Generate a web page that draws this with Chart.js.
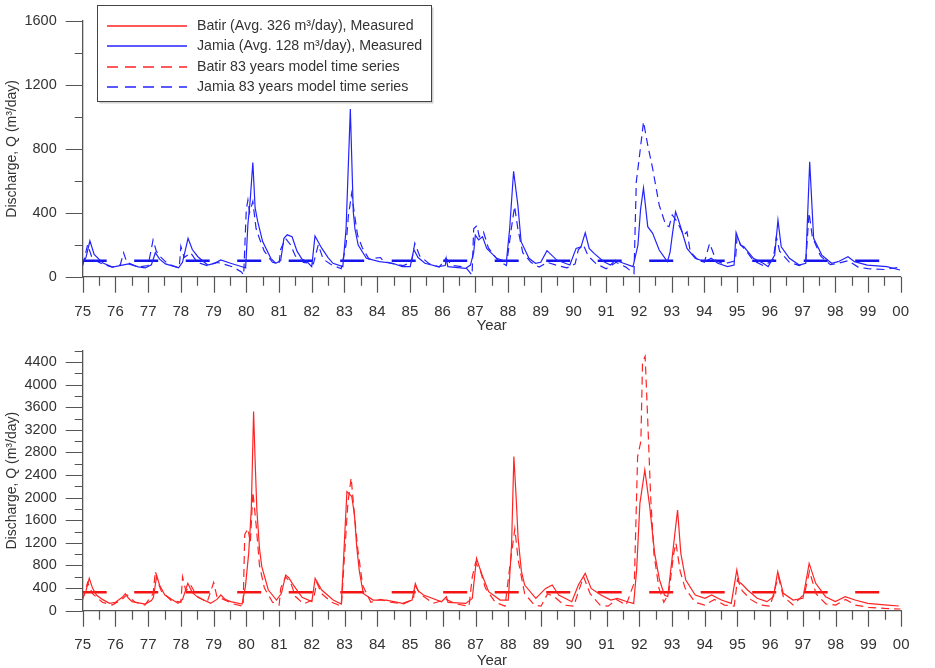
<!DOCTYPE html>
<html>
<head>
<meta charset="utf-8">
<script src="https://cdn.jsdelivr.net/npm/chart.js@4.4.0/dist/chart.umd.min.js"></script>
<style>
  html, body { margin: 0; padding: 0; background: #fff; }
  #wrap { position: relative; width: 935px; height: 668px; overflow: hidden; }
  canvas { position: absolute; left: 0; }
  #jamiaChart { top: 0; }
  #batirChart { top: 333px; }
</style>
</head>
<body>
<div id="wrap">
  <canvas id="jamiaChart" width="935" height="335"></canvas>
  <canvas id="batirChart" width="935" height="335"></canvas>
</div>
<script>
const FONT = '"Liberation Sans", Arial, sans-serif';
const BLUE = 'rgb(35,35,255)';
const RED = 'rgb(255,35,35)';
const AXIS = '#555';

// years are given as 75..100 (100 = 2000)
const yearMin = 75;
const yearMax = 100;
const yearTicks = ['75','76','77','78','79','80','81','82','83','84','85','86','87','88','89','90','91','92','93','94','95','96','97','98','99','00'];

// Jamia, measured
const jamiaMeasYear = [75.00,75.10,75.22,75.35,75.62,75.91,76.21,76.40,76.70,76.91,77.10,77.22,77.35,77.53,77.93,78.05,78.22,78.35,78.52,78.82,79.05,79.22,79.52,79.87,79.98,80.05,80.12,80.20,80.27,80.35,80.50,80.75,80.90,81.05,81.15,81.25,81.40,81.55,81.70,81.85,82.00,82.10,82.30,82.50,82.65,82.95,83.05,83.18,83.27,83.32,83.42,83.67,84.07,84.47,84.77,85.01,85.12,85.25,85.46,85.86,86.08,86.11,86.16,86.70,86.85,86.95,87.00,87.10,87.22,87.35,87.65,87.95,88.05,88.17,88.30,88.40,88.64,88.84,89.00,89.19,89.49,89.89,90.08,90.23,90.36,90.48,90.63,90.93,91.13,91.28,91.53,91.82,91.97,92.05,92.14,92.27,92.42,92.62,92.87,92.95,93.02,93.12,93.20,93.32,93.47,93.72,94.01,94.21,94.41,94.71,94.91,94.97,95.05,95.11,95.21,95.50,95.80,95.95,96.15,96.25,96.35,96.60,96.90,97.10,97.22,97.34,97.59,97.89,98.09,98.39,98.59,98.98,99.58,99.98];
const jamiaMeasQ = [84,120,225,140,85,60,72,80,62,55,75,150,110,80,55,90,240,170,125,73,85,105,84,62,55,330,480,715,430,344,220,115,84,100,240,262,250,160,110,95,63,255,180,120,84,63,300,1050,406,300,198,115,94,84,63,63,170,120,84,63,70,115,63,52,73,150,260,230,250,177,115,94,302,660,448,219,115,84,90,163,104,73,177,187,275,177,146,94,73,104,84,63,198,420,556,313,271,167,94,150,260,406,360,281,177,115,94,115,84,63,73,277,230,198,187,115,84,63,135,354,187,115,73,84,719,240,135,84,94,125,94,73,63,42];

// Jamia, 83 years model time series
const jamiaModelYear = [75.00,75.15,75.30,75.60,75.90,76.15,76.25,76.35,76.70,77.00,77.15,77.25,77.35,77.60,77.95,78.00,78.10,78.30,78.50,78.80,79.10,79.30,79.60,79.85,79.92,80.00,80.05,80.10,80.20,80.30,80.40,80.55,80.80,81.00,81.05,81.20,81.35,81.50,81.75,82.05,82.20,82.35,82.60,82.90,83.05,83.12,83.22,83.30,83.40,83.55,83.75,84.10,84.20,84.50,84.80,85.05,85.15,85.30,85.60,85.90,86.10,86.30,86.70,86.90,86.95,87.05,87.12,87.25,87.40,87.70,87.95,88.10,88.20,88.30,88.45,88.70,88.95,89.20,89.50,89.80,90.05,90.15,90.30,90.45,90.70,91.00,91.30,91.60,91.85,91.92,92.02,92.14,92.27,92.42,92.62,92.82,92.92,93.02,93.17,93.37,93.47,93.57,93.81,94.00,94.16,94.26,94.35,94.60,94.95,95.00,95.10,95.25,95.50,95.80,96.10,96.20,96.30,96.60,96.90,97.10,97.20,97.30,97.55,97.85,98.10,98.40,98.70,99.00,99.50,99.98];
const jamiaModelQ = [70,200,110,80,60,75,150,90,60,70,230,160,130,80,55,190,120,150,90,70,90,80,60,30,10,420,480,400,470,300,240,160,90,80,170,240,200,130,90,80,200,110,75,50,200,380,520,400,260,180,110,120,95,80,70,90,210,130,80,60,115,70,60,10,300,320,250,280,180,100,70,300,440,300,150,90,60,90,70,55,80,170,200,130,80,50,90,60,20,594,760,969,823,677,448,323,313,386,344,260,281,156,104,90,208,156,100,80,100,250,200,170,100,70,100,250,160,90,70,90,400,250,130,75,85,100,60,50,45,60];

// Batir, measured
const batirMeasYear = [75.00,75.10,75.20,75.30,75.42,75.60,75.82,76.00,76.21,76.30,76.40,76.51,76.91,77.10,77.16,77.26,77.35,77.51,77.91,78.05,78.21,78.35,78.52,78.91,79.10,79.22,79.35,79.52,79.87,79.97,80.07,80.15,80.22,80.27,80.32,80.40,80.47,80.67,80.92,81.07,81.20,81.30,81.40,81.70,82.00,82.10,82.30,82.65,82.90,83.07,83.22,83.30,83.37,83.45,83.57,83.87,84.27,84.77,85.06,85.16,85.25,85.41,85.96,86.11,86.16,86.70,86.90,87.03,87.10,87.20,87.40,87.75,88.00,88.10,88.17,88.24,88.30,88.40,88.50,88.84,89.14,89.34,89.54,89.94,90.14,90.35,90.53,90.83,91.13,91.33,91.63,91.83,91.92,92.02,92.17,92.32,92.47,92.62,92.77,92.87,93.02,93.17,93.27,93.42,93.71,94.01,94.21,94.51,94.81,94.98,95.05,95.11,95.31,95.60,95.90,96.10,96.23,96.40,96.70,97.00,97.19,97.39,97.69,97.99,98.29,98.59,98.98,99.58,99.93];
const batirMeasQ = [219,350,572,400,278,200,130,150,236,300,220,160,118,180,236,620,450,278,130,200,484,320,236,130,200,278,200,160,118,425,1014,1800,3523,2600,1782,1100,779,366,189,307,631,580,484,236,160,572,366,189,118,2106,2018,1700,1133,700,306,188,188,129,188,480,350,277,159,247,147,129,218,926,800,631,336,188,188,1162,2726,2000,1280,700,454,218,395,454,277,159,454,660,395,277,188,218,159,129,720,1900,2490,1841,1015,543,278,248,1015,1782,1015,543,278,219,278,189,129,720,500,484,366,219,160,248,690,307,189,219,838,484,248,160,248,189,129,100,83];

// Batir, 83 years model time series
const batirModelYear = [75.00,75.15,75.30,75.60,75.90,76.20,76.35,76.60,76.90,77.15,77.22,77.30,77.40,77.70,78.00,78.05,78.15,78.30,78.50,78.80,79.00,79.10,79.30,79.60,79.90,79.95,80.05,80.12,80.20,80.30,80.40,80.55,80.80,81.00,81.05,81.20,81.35,81.50,81.75,82.05,82.15,82.30,82.60,82.90,83.00,83.10,83.20,83.30,83.40,83.55,83.80,84.10,84.40,84.80,85.10,85.15,85.30,85.70,86.10,86.40,86.80,86.90,87.00,87.15,87.30,87.60,87.90,88.05,88.20,88.30,88.50,88.80,89.00,89.20,89.40,89.70,90.00,90.15,90.30,90.50,90.80,91.05,91.30,91.60,91.85,91.95,92.05,92.10,92.18,92.25,92.35,92.45,92.60,92.75,92.90,93.05,93.12,93.25,93.40,93.70,94.00,94.30,94.60,94.90,95.00,95.15,95.40,95.70,96.00,96.15,96.25,96.40,96.70,97.05,97.20,97.40,97.70,98.00,98.30,98.60,99.00,99.50,99.98];
const batirModelQ = [200,500,300,150,100,200,280,150,100,300,700,500,350,180,150,600,350,450,250,150,500,250,200,120,80,1350,1450,1200,2100,1500,800,400,150,100,400,600,500,250,120,200,500,300,150,80,1000,1900,2350,1700,1100,450,150,200,150,120,200,450,300,130,200,120,80,600,850,700,400,150,80,800,1450,900,300,100,80,300,250,100,80,350,600,300,100,80,200,100,500,2726,3000,4400,4500,3500,2000,1000,400,150,300,1000,1200,700,400,150,100,200,100,80,550,350,200,100,80,400,600,250,100,300,700,300,120,100,200,100,60,40,30];

// long-dash reference levels
const jamiaBaseQ = 100;
const batirBaseQ = 326;

function toPoints(xs, ys) {
  return xs.map((x, i) => ({ x: x, y: ys[i] }));
}

function baseLine(q) {
  return [{ x: yearMin, y: q }, { x: yearMax, y: q }];
}

// tick marks: long on majors, short on minors
const tickMarks = {
  id: 'tickMarks',
  afterDraw(chart, args, opts) {
    const { ctx, scales: { x, y } } = chart;
    ctx.save();
    ctx.strokeStyle = AXIS;
    ctx.lineWidth = 1.2;
    ctx.beginPath();
    for (let v = yearMin; v <= yearMax + 1e-9; v += 0.5) {
      const px = Math.round(x.getPixelForValue(v)) + 0.5;
      const len = Number.isInteger(v) ? 16 : 9;
      ctx.moveTo(px, x.top);
      ctx.lineTo(px, x.top + len);
    }
    for (let v = 0; v <= y.max + 1e-9; v += opts.minorStep) {
      const py = Math.round(y.getPixelForValue(v)) + 0.5;
      const len = v % opts.majorStep === 0 ? 17 : 8;
      ctx.moveTo(y.right - len, py);
      ctx.lineTo(y.right, py);
    }
    ctx.stroke();
    ctx.restore();
  }
};

const legendItems = [
  { text: 'Batir (Avg. 326 m³/day), Measured', color: RED, dash: [] },
  { text: 'Jamia (Avg. 128 m³/day), Measured', color: BLUE, dash: [] },
  { text: 'Batir 83 years model time series', color: RED, dash: [11, 7] },
  { text: 'Jamia 83 years model time series', color: BLUE, dash: [11, 7] }
];

// framed legend in the upper left of the Jamia panel
const boxLegend = {
  id: 'boxLegend',
  afterDraw(chart) {
    const ctx = chart.ctx;
    const bx = 97.5, by = 5.5, bw = 334, bh = 96;
    ctx.save();
    ctx.fillStyle = 'rgba(0,0,0,0.18)';
    ctx.fillRect(bx + 2, by + 2, bw, bh);
    ctx.fillStyle = '#fff';
    ctx.fillRect(bx, by, bw, bh);
    ctx.strokeStyle = '#444';
    ctx.lineWidth = 1;
    ctx.strokeRect(bx, by, bw, bh);
    legendItems.forEach((item, i) => {
      const cy = Math.round(26 + i * 20.4);
      ctx.save();
      ctx.strokeStyle = item.color;
      ctx.lineWidth = 1.4;
      ctx.setLineDash(item.dash);
      ctx.beginPath();
      ctx.moveTo(107, cy);
      ctx.lineTo(187, cy);
      ctx.stroke();
      ctx.restore();
      ctx.font = '14.2px ' + FONT;
      ctx.textBaseline = 'middle';
      ctx.fillStyle = '#333';
      ctx.fillText(item.text, 197, cy);
    });
    ctx.restore();
  }
};

function makeChart(canvasId, cfg) {
  const yLabelEvery = 400;
  return new Chart(document.getElementById(canvasId), {
    type: 'line',
    data: {
      datasets: [
        { data: toPoints(cfg.measYear, cfg.measQ), borderColor: cfg.color, borderWidth: 1.2 },
        { data: toPoints(cfg.modelYear, cfg.modelQ), borderColor: cfg.color, borderWidth: 1.2, borderDash: [8, 5] },
        { data: baseLine(cfg.baseQ), borderColor: cfg.baseColor, borderWidth: 2.4, borderDash: [24, 27.5] }
      ]
    },
    options: {
      responsive: false,
      animation: false,
      devicePixelRatio: 1,
      elements: { point: { radius: 0 }, line: { tension: 0, fill: false } },
      layout: { padding: { top: cfg.padTop, right: 14.3, left: 0, bottom: 0 } },
      plugins: {
        legend: { display: false },
        tooltip: { enabled: false },
        tickMarks: { minorStep: 200, majorStep: yLabelEvery }
      },
      scales: {
        x: {
          type: 'linear',
          min: yearMin,
          max: yearMax,
          afterFit: s => { s.height = cfg.xHeight; },
          grid: { display: false, drawTicks: false },
          border: { display: true, color: AXIS, width: 1.3 },
          ticks: {
            stepSize: 1,
            autoSkip: false,
            maxRotation: 0,
            padding: cfg.xPad,
            color: '#333',
            font: { family: FONT, size: 15 },
            callback: v => yearTicks[v - yearMin]
          },
          title: {
            display: true,
            text: 'Year',
            color: '#333',
            font: { family: FONT, size: 15, lineHeight: 1 },
            padding: { top: 0, bottom: cfg.yearPad }
          }
        },
        y: {
          type: 'linear',
          min: 0,
          max: cfg.yMax,
          // label padding must not push the plot area down
          afterFit: s => { s.width = 82.7; s.paddingTop = 0; s.paddingBottom = 0; },
          grid: { display: false, drawTicks: false },
          border: { display: true, color: AXIS, width: 1.3 },
          ticks: {
            stepSize: yLabelEvery,
            includeBounds: false,
            autoSkip: false,
            padding: 26,
            color: '#333',
            font: { family: FONT, size: 14.5 },
            callback: v => (v % yLabelEvery === 0 ? String(v) : '')
          },
          title: {
            display: true,
            text: 'Discharge, Q (m³/day)',
            color: '#333',
            font: { family: FONT, size: 14 },
            padding: { top: 4, bottom: 0 }
          }
        }
      }
    },
    plugins: cfg.extra ? [tickMarks, cfg.extra] : [tickMarks]
  });
}

makeChart('jamiaChart', {
  measYear: jamiaMeasYear, measQ: jamiaMeasQ,
  modelYear: jamiaModelYear, modelQ: jamiaModelQ,
  baseQ: jamiaBaseQ,
  color: BLUE, baseColor: 'rgb(20,20,235)',
  yMax: 1600,
  padTop: 21, xHeight: 335 - 276.7, xPad: 26, yearPad: 2,
  extra: boxLegend
});

makeChart('batirChart', {
  measYear: batirMeasYear, measQ: batirMeasQ,
  modelYear: batirModelYear, modelQ: batirModelQ,
  baseQ: batirBaseQ,
  color: RED, baseColor: 'rgb(245,20,20)',
  yMax: 4600,
  padTop: 17.7, xHeight: 335 - 277.7, xPad: 25.5, yearPad: 0
});
</script>
</body>
</html>
